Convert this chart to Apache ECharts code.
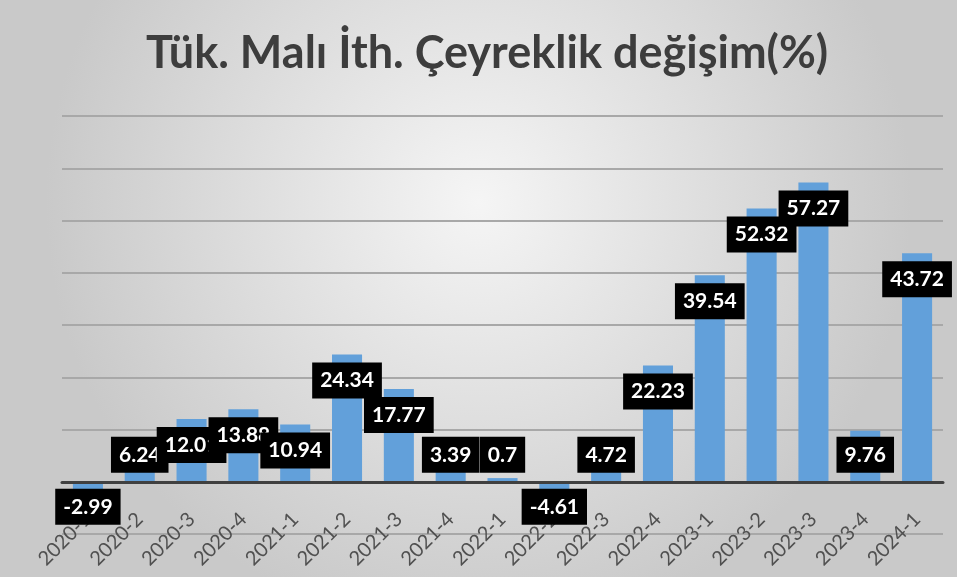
<!DOCTYPE html>
<html>
<head>
<meta charset="utf-8">
<script src="https://cdn.jsdelivr.net/npm/echarts@6/dist/echarts.min.js"></script>
<style>
html,body{margin:0;padding:0;}
#c{width:957px;height:577px;}
</style>
</head>
<body>
<div id="c"></div>
<script>
var titleText = 'Tük. Malı İth. Çeyreklik değişim(%)';
var categories = ['2020-1','2020-2','2020-3','2020-4','2021-1','2021-2','2021-3','2021-4','2022-1','2022-2','2022-3','2022-4','2023-1','2023-2','2023-3','2023-4','2024-1'];
var values = [-2.99, 6.24, 12.01, 13.88, 10.94, 24.34, 17.77, 3.39, 0.7, -4.61, 4.72, 22.23, 39.54, 52.32, 57.27, 9.76, 43.72];
var yMin = -10, yMax = 70, yStep = 10;

var chart = echarts.init(document.getElementById('c'), null, {renderer: 'canvas'});

var data = values.map(function (v) {
  var lbl;
  if (v < 0) lbl = {position: 'insideTop', distance: 7};
  else if (v < 10) lbl = {position: 'insideBottom', distance: 9};
  else lbl = {position: 'insideTop', distance: 8};
  return {value: v, label: lbl};
});

chart.setOption({
  backgroundColor: {
    type: 'radial', x: 0.5, y: 0.35, r: 0.75,
    colorStops: [{offset: 0, color: '#f5f5f5'}, {offset: 1, color: '#c9c9c9'}]
  },
  title: {
    text: titleText,
    left: 146,
    top: 31,
    padding: 0,
    textStyle: {fontFamily: 'Lato', fontWeight: 'bold', fontSize: 45, color: '#3d3d3d'}
  },
  grid: {left: 62, right: 14, top: 116, bottom: 43, outerBoundsMode: 'none', containLabel: false},
  xAxis: [{
    type: 'category',
    data: categories,
    offset: -52,
    axisLine: {show: false, onZero: false},
    axisTick: {show: false},
    axisLabel: {rotate: 45, margin: 34, fontFamily: 'Lato', fontSize: 20, color: '#505050', interval: 0}
  }, {
    type: 'category',
    data: categories,
    position: 'bottom',
    z: 10,
    axisLine: {show: true, onZero: true, lineStyle: {color: '#404040', width: 3}},
    axisTick: {show: false},
    axisLabel: {show: false}
  }],
  yAxis: {
    type: 'value',
    min: yMin, max: yMax, interval: yStep,
    axisLabel: {show: false},
    axisLine: {show: false},
    axisTick: {show: false},
    splitLine: {lineStyle: {color: '#a8a8a8', width: 2}}
  },
  series: [{
    type: 'bar',
    data: data,
    xAxisIndex: 0,
    barCategoryGap: '42%',
    itemStyle: {color: '#62a0da'},
    label: {
      show: true,
      backgroundColor: '#000000',
      color: '#ffffff',
      fontFamily: 'Lato',
      fontWeight: 'bold',
      fontSize: 21,
      lineHeight: 24,
      padding: [6, 8, 6, 8]
    },
    labelLayout: {hideOverlap: false}
  }]
});
</script>
</body>
</html>
